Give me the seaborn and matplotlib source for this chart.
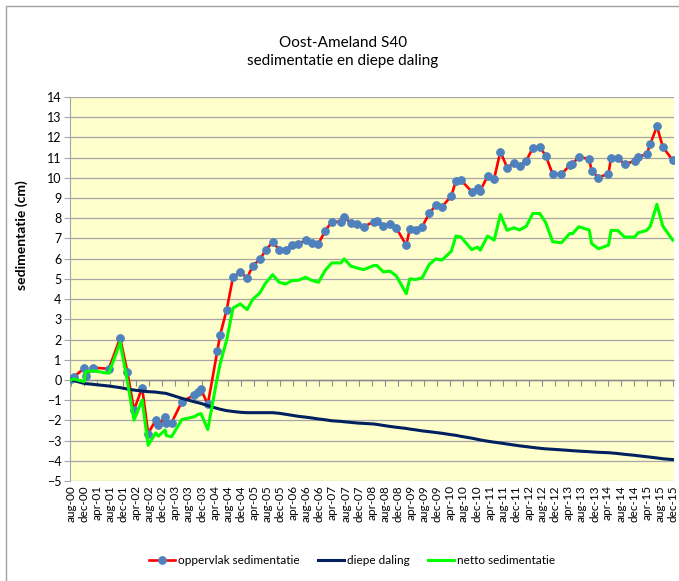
import numpy as np
import pandas as pd
import seaborn as sb
import matplotlib
matplotlib.use("Agg")
import matplotlib.pyplot as plt
import matplotlib.dates as mdates
from matplotlib import font_manager
from matplotlib.patches import Rectangle

# meetdatums en waarden (cm)
datums = [
    "2000-08-04", "2000-08-28", "2000-12-04", "2000-12-19", "2001-03-01", "2001-07-22",
    "2001-11-04", "2002-01-10", "2002-03-13", "2002-05-28", "2002-07-22", "2002-10-01",
    "2002-10-25", "2002-12-28", "2003-01-07", "2003-02-25", "2003-06-01", "2003-09-25",
    "2003-10-25", "2003-11-25", "2004-01-28", "2004-04-25", "2004-05-22", "2004-07-22",
    "2004-09-19", "2004-11-25", "2005-01-28", "2005-03-22", "2005-05-25", "2005-07-19",
    "2005-09-22", "2005-11-22", "2006-01-22", "2006-03-22", "2006-05-19", "2006-07-25",
    "2006-09-19", "2006-11-22", "2007-01-22", "2007-03-25", "2007-06-19", "2007-07-19",
    "2007-09-19", "2007-11-16", "2008-01-16", "2008-04-19", "2008-05-19", "2008-07-16",
    "2008-09-16", "2008-11-13", "2009-02-15", "2009-03-19", "2009-05-13", "2009-07-13",
    "2009-09-16", "2009-11-16", "2010-01-13", "2010-04-10", "2010-05-22", "2010-07-07",
    "2010-10-16", "2010-12-10", "2011-01-04", "2011-03-13", "2011-05-13", "2011-07-10",
    "2011-09-10", "2011-11-13", "2012-01-04", "2012-03-07", "2012-05-07", "2012-07-10",
    "2012-09-04", "2012-11-07", "2013-01-28", "2013-04-16", "2013-05-10", "2013-07-07",
    "2013-10-13", "2013-11-04", "2014-01-07", "2014-04-10", "2014-05-04", "2014-07-04",
    "2014-09-07", "2014-12-10", "2015-01-10", "2015-04-01", "2015-05-04", "2015-07-04",
    "2015-08-28", "2015-11-28",
]

oppervlak = [
    0.05, 0.13, 0.58, 0.20, 0.61, 0.55, 2.07, 0.41, -1.49, -0.38, -2.65, -1.99,
    -2.23, -1.85, -2.12, -2.12, -1.08, -0.74, -0.58, -0.46, -1.21, 1.41, 2.23, 3.48,
    5.10, 5.33, 5.05, 5.66, 5.96, 6.42, 6.82, 6.45, 6.42, 6.67, 6.75, 6.90,
    6.79, 6.75, 7.36, 7.83, 7.83, 8.08, 7.75, 7.70, 7.58, 7.83, 7.86, 7.61,
    7.73, 7.53, 6.67, 7.45, 7.40, 7.58, 8.24, 8.64, 8.57, 9.10, 9.85, 9.90,
    9.32, 9.48, 9.35, 10.10, 9.96, 11.30, 10.51, 10.72, 10.59, 10.84, 11.50, 11.53,
    11.09, 10.18, 10.18, 10.63, 10.67, 11.05, 10.92, 10.34, 10.01, 10.21, 11.00, 11.00,
    10.67, 10.84, 11.04, 11.17, 11.67, 12.55, 11.53, 10.87,
]

diepe_daling = [
    0.00, -0.03, -0.17, -0.18, -0.22, -0.30, -0.38, -0.45, -0.50, -0.55, -0.58, -0.60,
    -0.62, -0.66, -0.67, -0.75, -0.91, -1.08, -1.12, -1.16, -1.27, -1.41, -1.45, -1.52,
    -1.56, -1.60, -1.62, -1.62, -1.62, -1.62, -1.62, -1.65, -1.70, -1.75, -1.80, -1.84,
    -1.88, -1.93, -1.97, -2.02, -2.05, -2.07, -2.10, -2.13, -2.15, -2.18, -2.20, -2.25,
    -2.30, -2.34, -2.40, -2.43, -2.47, -2.52, -2.56, -2.60, -2.64, -2.71, -2.74, -2.79,
    -2.88, -2.94, -2.97, -3.03, -3.08, -3.12, -3.17, -3.22, -3.26, -3.30, -3.34, -3.38,
    -3.41, -3.43, -3.46, -3.49, -3.50, -3.52, -3.55, -3.56, -3.58, -3.60, -3.61, -3.64,
    -3.68, -3.73, -3.75, -3.80, -3.82, -3.86, -3.90, -3.94,
]

netto = [
    0.00, 0.05, -0.08, 0.41, 0.45, 0.33, 1.85, -0.05, -1.99, -0.99, -3.23, -2.62,
    -2.78, -2.48, -2.75, -2.81, -1.96, -1.82, -1.72, -1.66, -2.45, 0.10, 0.80, 1.99,
    3.56, 3.76, 3.48, 4.00, 4.30, 4.80, 5.21, 4.83, 4.75, 4.92, 4.93, 5.08,
    4.93, 4.83, 5.41, 5.79, 5.79, 5.99, 5.63, 5.54, 5.46, 5.66, 5.66, 5.35,
    5.38, 5.16, 4.27, 5.00, 4.97, 5.05, 5.71, 5.99, 5.93, 6.37, 7.12, 7.08,
    6.45, 6.57, 6.42, 7.12, 6.92, 8.19, 7.40, 7.53, 7.42, 7.61, 8.24, 8.24,
    7.78, 6.84, 6.79, 7.25, 7.23, 7.58, 7.42, 6.75, 6.49, 6.67, 7.40, 7.40,
    7.07, 7.07, 7.28, 7.40, 7.61, 8.69, 7.61, 6.92,
]

maanden = ["jan", "feb", "mrt", "apr", "mei", "jun", "jul", "aug", "sep", "okt", "nov", "dec"]

df = pd.DataFrame({
    "datum": pd.to_datetime(datums),
    "oppervlak sedimentatie": oppervlak,
    "diepe daling": diepe_daling,
    "netto sedimentatie": netto,
})

# lettertype dat op Calibri lijkt
namen = {f.name for f in font_manager.fontManager.ttflist}
font = "Liberation Sans Narrow" if "Liberation Sans Narrow" in namen else "Lato"
plt.rcParams["font.family"] = [font, "DejaVu Sans"]

fig = plt.figure(figsize=(6.79, 5.81), dpi=100)
ax = fig.add_axes([70 / 679, 1 - 481 / 581, 604 / 679, 384 / 581])
ax.set_facecolor("#FFFFCC")

sb.lineplot(data=df, x="datum", y="oppervlak sedimentatie", ax=ax, color="#FF0000",
            linewidth=1.9, marker="o", markersize=5.5, markerfacecolor="#4F81BD",
            markeredgecolor="#4F81BD", label="oppervlak sedimentatie", zorder=3, legend=False)
sb.lineplot(data=df, x="datum", y="diepe daling", ax=ax, color="#002060",
            linewidth=2.2, label="diepe daling", zorder=4, legend=False)
sb.lineplot(data=df, x="datum", y="netto sedimentatie", ax=ax, color="#00FF00",
            linewidth=2.2, label="netto sedimentatie", zorder=5, legend=False)

ax.set_ylim(-5, 14)
ax.set_yticks(range(-5, 15))
ax.set_xlim(pd.Timestamp("2000-07-26"), pd.Timestamp("2015-12-10"))
ax.grid(axis="y", color="#A6A6A6", linewidth=0.9, zorder=0)
ax.grid(axis="x", visible=False)
ax.set_axisbelow(True)

for s in ["top", "right", "bottom"]:
    ax.spines[s].set_visible(False)
ax.spines["left"].set_color("#A6A6A6")

ax.xaxis.set_major_locator(mdates.MonthLocator(bymonth=[4, 8, 12]))
ax.xaxis.set_major_formatter(plt.FuncFormatter(
    lambda v, pos: f"{maanden[mdates.num2date(v).month - 1]}-{mdates.num2date(v).year % 100:02d}"))
ax.tick_params(axis="x", length=0, rotation=90, labelsize=8.5, pad=3)
ax.tick_params(axis="y", length=4, color="#A6A6A6", labelsize=9, pad=2)

# nul-as met streepjes
ax.axhline(0, color="#8C8C8C", linewidth=1.0, zorder=1)
nul = ax.secondary_xaxis(5 / 19)
nul.xaxis.set_major_locator(mdates.MonthLocator(bymonth=[4, 8, 12]))
nul.tick_params(axis="x", length=4, color="#8C8C8C", labelbottom=False, direction="out")
nul.spines["bottom"].set_color("#8C8C8C")

ax.set_xlabel("")
ax.set_ylabel("sedimentatie (cm)", fontsize=10, fontweight="bold")
ax.yaxis.set_label_coords(-0.07, 0.64)

fig.text(343 / 679, 1 - 43 / 581, "Oost-Ameland S40", ha="center", va="center", fontsize=11)
fig.text(343 / 679, 1 - 61 / 581, "sedimentatie en diepe daling", ha="center", va="center", fontsize=11)

handles, labels = ax.get_legend_handles_labels()
fig.legend(handles, labels, loc="center", bbox_to_anchor=(352 / 679, 1 - 561 / 581), ncol=3,
           frameon=False, fontsize=8.5, handlelength=2.2, columnspacing=1.6, handletextpad=0.2)

# rand van het grafiekgebied
fig.patches.append(Rectangle((6 / 679, -0.1), 1.2, 1 - 6 / 581 + 0.1, transform=fig.transFigure,
                             fill=False, edgecolor="#A0A0A0", linewidth=1.0))

fig.savefig("out.png", dpi=100)
